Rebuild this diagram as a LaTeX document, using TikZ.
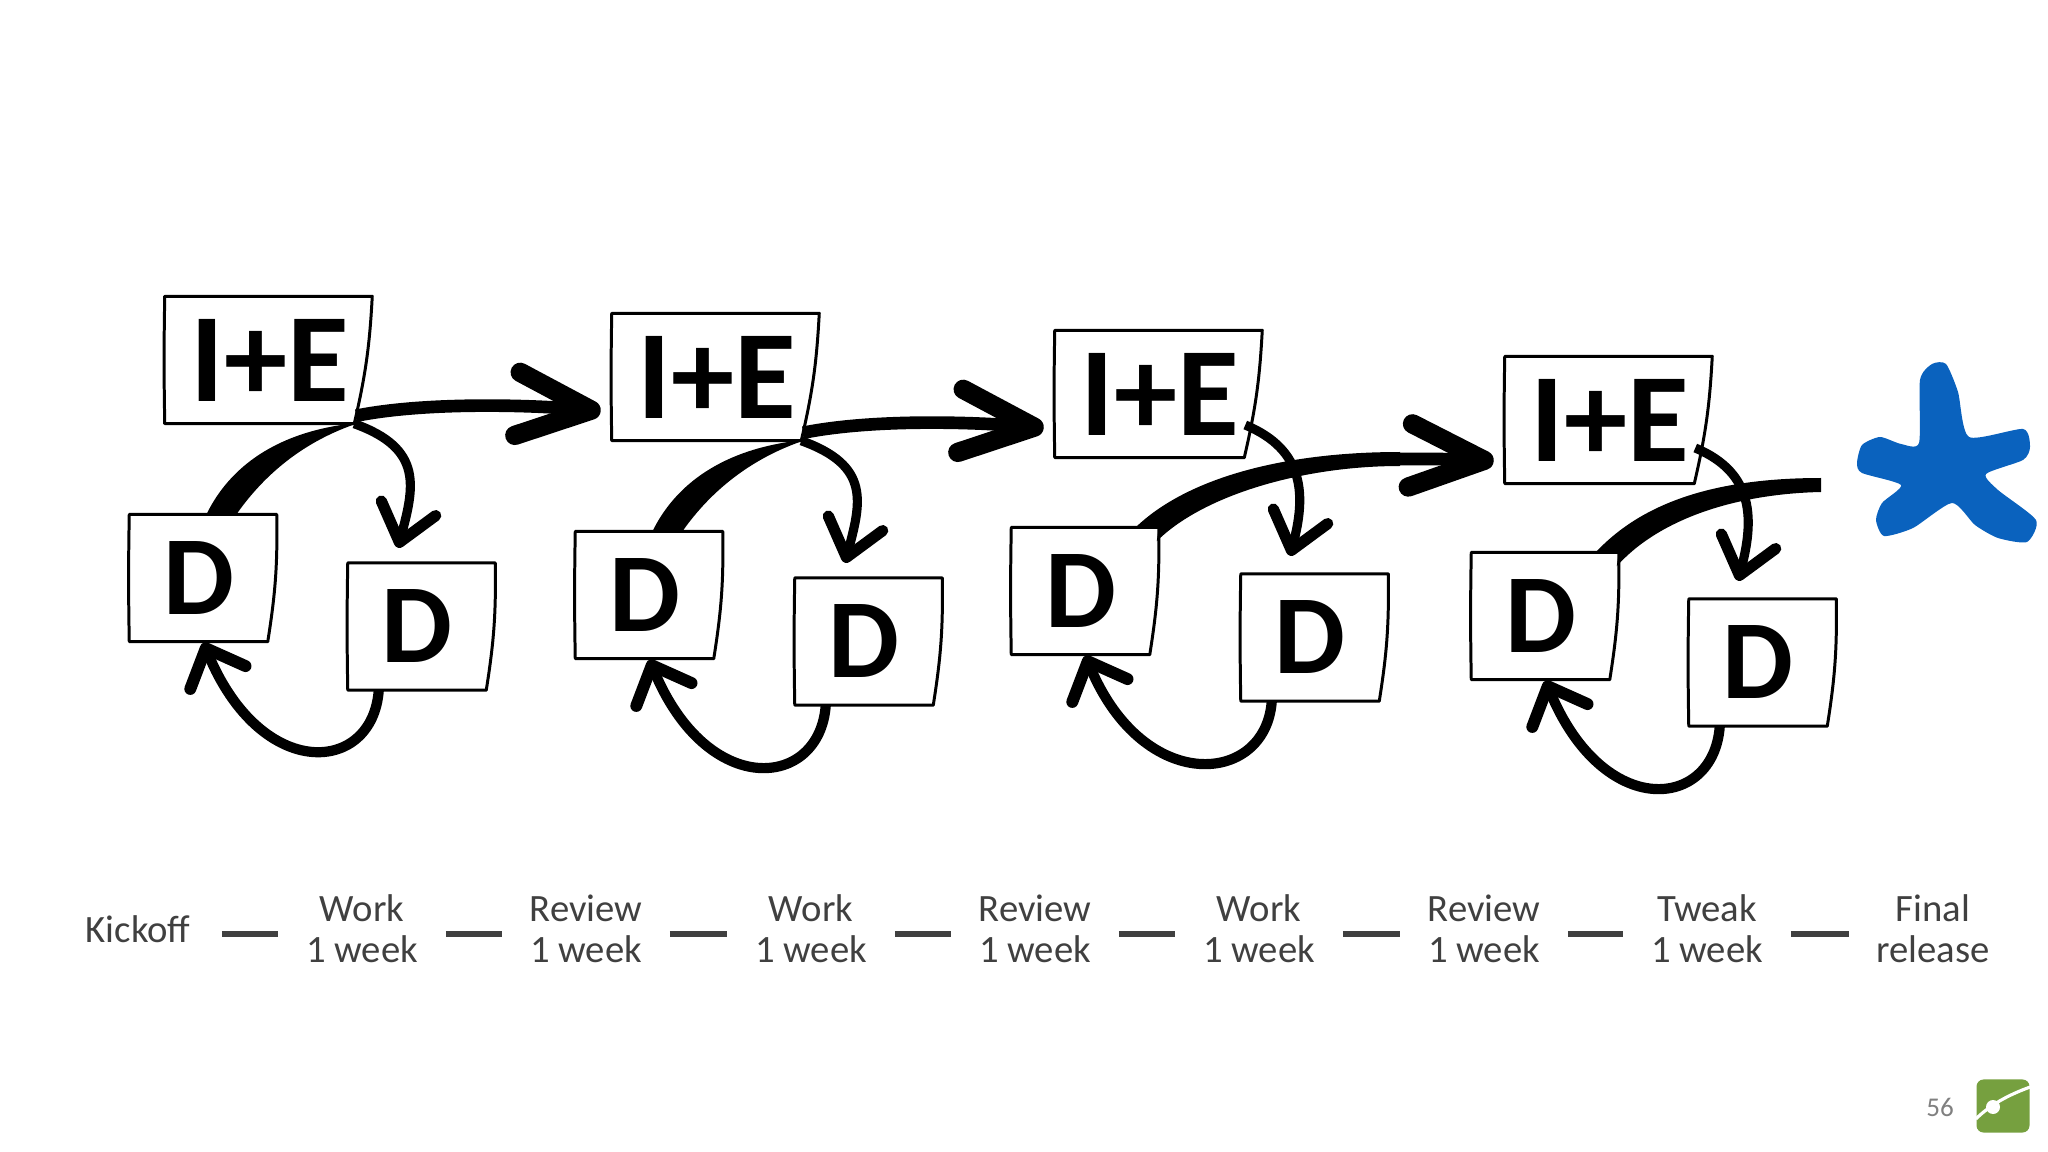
\documentclass[tikz,border=0pt]{standalone}
\usepackage{fontspec}
\setmainfont{Carlito}
\usetikzlibrary{arrows.meta,calc}
\definecolor{starblue}{HTML}{0A62BE}
\definecolor{labelgray}{HTML}{404040}
\definecolor{logogreen}{HTML}{76A03F}
\tikzset{
  sketchnode/.style={inner sep=0pt, font=\bfseries},
  boxedge/.style={black, line width=.85pt, line join=round},
  flowbig/.style={black, line width=3.6pt, -{Straight Barb[length=21pt,width=18pt,line width=5.5pt,round]}},
  flowdown/.style={black, line width=2.6pt, -{Straight Barb[length=10pt,width=16pt,line width=3.2pt,round]}},
  flowback/.style={black, line width=2.9pt, -{Straight Barb[length=9pt,width=17pt,line width=3.4pt,round]}},
  steplabel/.style={labelgray, minimum width=1.66cm, inner sep=0pt, align=center,
    font=\fontsize{11}{11.7}\selectfont},
  stepdash/.style={labelgray, line width=1.8pt},
}
\newcommand{\sketchedge}[2]{\draw[boxedge] (#1.south west) -- (#1.south east)
  to[bend right=5] ($(#1.north east)+(#2,0)$) -- (#1.north west) to[bend right=1] cycle;}
\begin{document}
\begin{tikzpicture}[x=0.01cm,y=-0.01cm]
  \useasboundingbox (0,0) rectangle (2048,1152);
  % the four rounds of boxes
  \foreach \n/\ix/\iy/\ax/\ay/\bx/\by in {1/259.5/360/198.5/578/417/626.5,
      2/706.5/377/644.5/595/864/641.5, 3/1149.5/394/1080.5/591/1310/637.5,
      4/1599.5/420/1540.5/616/1758/662.5} {
    \node[sketchnode, minimum width=1.88cm, minimum height=1.26cm] (ie\n) at (\ix,\iy)
      {\fontsize{36}{36}\selectfont\hspace{6pt}I+E};
    \node[sketchnode, minimum width=1.37cm, minimum height=1.26cm] (dleft\n) at (\ax,\ay)
      {\fontsize{32}{32}\selectfont D\hspace{6pt}};
    \node[sketchnode, minimum width=1.37cm, minimum height=1.26cm] (dright\n) at (\bx,\by)
      {\fontsize{32}{32}\selectfont D\hspace{6pt}};
    \sketchedge{ie\n}{18}
    \sketchedge{dleft\n}{9}
    \sketchedge{dright\n}{9}
    \draw[flowback] ($(dright\n.south west)+(31,0)$) .. controls +(-6,84) and +(58,140) ..
      ($(dleft\n.south)+(5,1)$);
  }
  % first two rounds leave from the corner of I+E
  \foreach \n/\m in {1/2,2/3} {
    \fill[black] ($(dleft\n.north)+(8,0)$) .. controls +(22,-45) and +(-85,8) ..
      ($(ie\n.south east)+(5,-1)$) .. controls +(-55,18) and +(28,-40) ..
      ($(dleft\n.north)+(38,0)$) -- cycle;
    \draw[flowbig] ($(ie\n.south east)+(2,-8)$) .. controls +(70,-14) and +(-70,-6) ..
      ($(ie\m.west)+(-11,34)$);
    \draw[flowdown] (ie\n.south east) .. controls +(70,25) and +(16,-60) ..
      ($(dright\n.north)+(-19,-15)$);
  }
  % last two rounds leave from the left D
  \coordinate (bend3) at (1400,459);
  \coordinate (finish) at (1821,485);
  \fill[black] ($(dleft3.north east)+(-14,0)$) .. controls +(50,-48) and +(-120,0) ..
    ($(bend3)+(0,-7)$) -- ($(bend3)+(0,7)$) .. controls +(-100,0) and +(45,-45) ..
    ($(dleft3.north east)+(7,14)$) -- ($(dleft3.north east)+(9,0)$) -- cycle;
  \draw[flowbig] (bend3) .. controls +(30,0) and +(-30,-2) .. ($(ie4.west)+(-11,41)$);
  \fill[black] ($(dleft4.north east)+(-14,0)$) .. controls +(45,-48) and +(-110,0) ..
    ($(finish)+(0,-7)$) -- ($(finish)+(0,7)$) .. controls +(-90,2) and +(40,-45) ..
    ($(dleft4.north east)+(7,14)$) -- ($(dleft4.north east)+(9,0)$) -- cycle;
  \foreach \n/\dy in {3/31,4/28} {
    \draw[flowdown] ($(ie\n.east)+(1,\dy)$) .. controls +(60,25) and +(16,-60) ..
      ($(dright\n.north)+(-20,-18)$);
  }
  % blue star
  \fill[starblue] plot [smooth cycle, tension=.4] coordinates {(1932,364) (1946,364)
    (1958,392) (1969,437) (2023,429) (2030,447) (2023,460) (1986,474) (1998,490)
    (2036,520) (2027,542) (1998,538) (1975,525) (1952,503) (1913,528) (1884,536)
    (1876,520) (1882,503) (1901,485) (1862,473) (1857,463) (1862,445) (1880,437)
    (1901,444) (1919,443) (1920,380)};
  % timeline
  \foreach \n/\x/\txt in {1/138/Kickoff, 2/362/{Work\\1 week}, 3/586/{Review\\1 week},
      4/811/{Work\\1 week}, 5/1035/{Review\\1 week}, 6/1259/{Work\\1 week},
      7/1484/{Review\\1 week}, 8/1707/{Tweak\\1 week}, 9/1933/{Final\\release}} {
    \node[steplabel] (step\n) at (\x,929) {\txt};
  }
  \foreach \n/\m in {1/2,2/3,3/4,4/5,5/6,6/7,7/8,8/9} {
    \draw[stepdash] ([yshift=-1.4pt]step\n.east) -- ([yshift=-1.4pt]step\m.west);
  }
  % page number and logo
  \node[inner sep=0pt, text=gray, font=\fontsize{7.7}{8}\selectfont] (pagenum) at (1940,1107) {56};
  \node[fill=logogreen, rounded corners=2pt, minimum width=.53cm,
    minimum height=.53cm, inner sep=0pt] (logo) at (2003,1106) {};
  \draw[white, line width=.9pt] (logo.west |- 1977,1119) .. controls (1990,1105) and (2008,1095) ..
    (logo.east |- 2029,1087);
  \fill[white] (1993,1107) circle (7);
\end{tikzpicture}
\end{document}
